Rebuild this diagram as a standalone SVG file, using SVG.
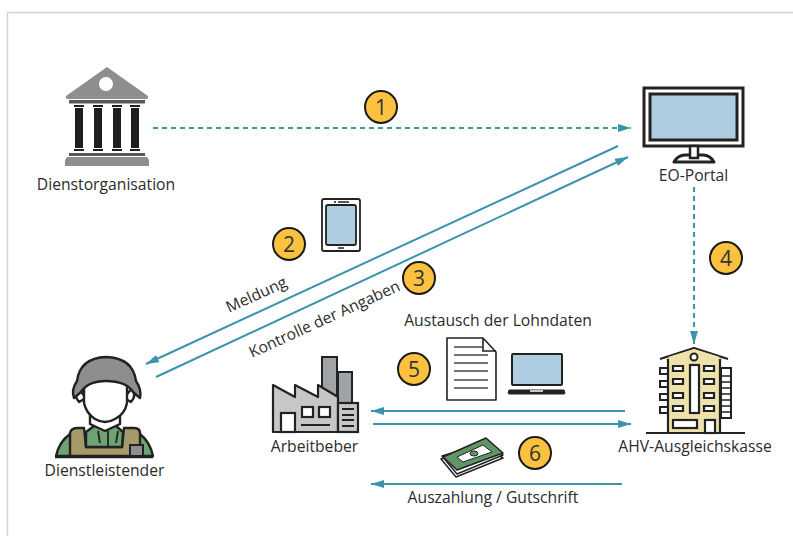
<svg xmlns="http://www.w3.org/2000/svg" width="793" height="536" viewBox="0 0 793 536">
<style>
text{font-family:"Open Sans","Noto Sans",sans-serif;font-size:15.700px;fill:#2b2b2b}
.c{text-anchor:middle}
.l{fill:none;stroke:#3a94ab;stroke-width:2}
.d{stroke-dasharray:5 4}
.b{fill:#fcc23f;stroke:#1a1a1a;stroke-width:2}
text.n{font-size:21px;text-anchor:middle;fill:#333}
.g{fill:#8c8e90}
.t{fill:#55585a}
.s{fill:#1e1e1e}
.o{stroke:#222;stroke-width:2.400;stroke-linejoin:round}
</style>
<defs>
<marker id="a" markerUnits="userSpaceOnUse" markerWidth="14" markerHeight="10" refX="13" refY="4" orient="auto"><path d="M0 0L13 4L0 8Z" fill="#3a94ab"/></marker>
</defs>
<path d="M7.500 536V12.500H793" fill="none" stroke="#d9d0c6" stroke-width="1.500"/>
<g id="connectors">
<path class="l d" d="M153 128H631" marker-end="url(#a)"/>
<path class="l" d="M618 146L146 364" marker-end="url(#a)"/>
<path class="l" d="M156 377L628 157" marker-end="url(#a)"/>
<path class="l d" d="M694 187V344" marker-end="url(#a)"/>
<path class="l" d="M625 411H371" marker-end="url(#a)"/>
<path class="l" d="M373 424H631" marker-end="url(#a)"/>
<path class="l" d="M622 484H371" marker-end="url(#a)"/>
</g>
<g id="dienstorganisation">
<path class="g" d="M107 67L148 96Q149 99 146 99H68Q65 99 66 96ZM67 157H147L149 160V166H65V160Z"/>
<circle cx="106" cy="84" r="7" fill="#fff"/>
<path class="t" d="M69 100H145V103.500H69ZM69 153H145V156H69Z"/>
<path class="s" d="M75 108H83V148H75ZM94 108H102V148H94ZM113 108H121V148H113ZM131 108H139V148H131ZM74 105H84V107H74ZM93 105H103V107H93ZM112 105H122V107H112ZM130 105H140V107H130ZM74 149H84V151H74ZM93 149H103V151H93ZM112 149H122V151H112ZM130 149H140V151H130Z"/>
<text class="c" x="106" y="190">Dienstorganisation</text>
</g>
<g id="eo-portal">
<rect x="644" y="88" width="99" height="58" fill="#fff" stroke="#222" stroke-width="3"/>
<rect x="650" y="94" width="87" height="46" fill="#afcde0" stroke="#222" stroke-width="3"/>
<path d="M674 162Q678 155 685 155H703Q710 155 714 162Z" fill="#fff" stroke="#222" stroke-width="3" stroke-linejoin="round"/>
<path d="M690 146V158H698V146Z" fill="#fff" stroke="#222" stroke-width="2.500"/>
<text class="c" x="693.500" y="181">EO-Portal</text>
</g>
<g id="dienstleistender">
<path class="o" d="M56 456Q59 442 70 434H140Q150 442 153 456Z" fill="#6ea374"/>
<path class="o" d="M70 456V433Q71 428 78 428H84L86 447H122L124 428H134Q140 428 140 433V456Z" fill="#a59a6b"/>
<path class="o" d="M86 432L94 426H116L123 432L122 447H86Z" fill="#6ea374"/>
<path d="M108 431V447M98 431L100 443M118 431L116 443" stroke="#222" stroke-width="1.800" fill="none"/>
<rect x="130" y="445" width="13" height="11" fill="#8c8e90" stroke="#222" stroke-width="2"/>
<path d="M55 457H153" stroke="#222" stroke-width="2.500"/>
<path class="o" d="M90 414H120V424L105 431L90 424Z" fill="#fff"/>
<path class="o" d="M78 388Q73 396 79 402L86 398ZM132 388Q137 396 131 402L124 398Z" fill="#fff"/>
<path class="o" d="M84 380H127V403Q125 414 115 419Q105 425 95 419Q86 413 84 403Z" fill="#fff"/>
<path class="o" d="M74 398Q71 390 77 381Q80 358 106 357Q133 358 136 381Q142 390 140 398L133 392Q126 381 106 381Q88 381 81 392Z" fill="#8c8e90"/>
<text class="c" x="104.500" y="476">Dienstleistender</text>
</g>
<g id="arbeitgeber">
<path d="M322 357H337V403H322Z" fill="#a0a4a6" stroke="#222" stroke-width="2"/>
<path d="M338 372H352V403H338Z" fill="#a0a4a6" stroke="#222" stroke-width="2"/>
<path d="M273 385L295 397V385L318 397V385L338 397V432H273Z" fill="#c6c7c6" stroke="#222" stroke-width="2.200" stroke-linejoin="round"/>
<rect x="338" y="403" width="20" height="29" fill="#c6c7c6" stroke="#222" stroke-width="2.200"/>
<path d="M342 409H354M342 415H354M342 420H354M342 426H354" stroke="#222" stroke-width="2"/>
<rect x="281" y="413" width="14" height="19" fill="#fff" stroke="#222" stroke-width="2.200"/>
<rect x="302" y="407" width="11" height="10" fill="#fff" stroke="#222" stroke-width="2.200"/>
<rect x="319" y="407" width="11" height="10" fill="#fff" stroke="#222" stroke-width="2.200"/>
<path d="M301 425H330" stroke="#222" stroke-width="2"/>
<text class="c" x="314.500" y="452">Arbeitbeber</text>
</g>
<g id="ahv-ausgleichskasse">
<path d="M721 368H731V418H721Z" fill="#fff" stroke="#222" stroke-width="2"/>
<path d="M722 376H731M722 382H731M722 388H731M722 394H731M722 400H731M722 406H731M722 412H731" stroke="#222" stroke-width="1.500"/>
<path d="M660 368H668V374H660ZM660 381H668V387H660ZM660 394H668V400H660ZM660 407H668V413H660Z" fill="#fff" stroke="#222" stroke-width="2"/>
<path d="M668 357H720V433H668Z" fill="#ede3aa" stroke="#222" stroke-width="2.200"/>
<path d="M660 359L694 348L728 359" fill="#ede3aa" stroke="#222" stroke-width="2.200" stroke-linejoin="round"/>
<path d="M668 357L694 349L720 357Z" fill="#ede3aa"/>
<circle cx="694" cy="357" r="3.500" fill="#fff" stroke="#222" stroke-width="2"/>
<rect x="690" y="365" width="9" height="48" fill="#fff" stroke="#222" stroke-width="2.200"/>
<path d="M673 366H683V371H673ZM704 366H714V371H704ZM673 379H683V384H673ZM704 379H714V384H704ZM673 393H683V398H673ZM704 393H714V398H704ZM673 406H683V411H673ZM704 406H714V411H704Z" fill="#fff" stroke="#222" stroke-width="2.200"/>
<rect x="673" y="420" width="24" height="8" fill="#fff" stroke="#222" stroke-width="2.200"/>
<rect x="705" y="420" width="10" height="13" fill="#fff" stroke="#222" stroke-width="2.200"/>
<path d="M646 433H745" stroke="#222" stroke-width="2.200"/>
<text class="c" x="695" y="452">AHV-Ausgleichskasse</text>
</g>
<g id="badge-1"><circle class="b" cx="381" cy="107" r="16"/><text class="n" x="381" y="114.500">1</text></g>
<g id="badge-2"><circle class="b" cx="289" cy="244" r="16"/><text class="n" x="289" y="251.500">2</text></g>
<g id="badge-3"><circle class="b" cx="419" cy="278" r="16"/><text class="n" x="419" y="285.500">3</text></g>
<g id="badge-4"><circle class="b" cx="726" cy="258" r="16"/><text class="n" x="726" y="265.500">4</text></g>
<g id="badge-5"><circle class="b" cx="414" cy="369" r="16"/><text class="n" x="414" y="376.500">5</text></g>
<g id="badge-6"><circle class="b" cx="535" cy="453" r="16"/><text class="n" x="535" y="460.500">6</text></g>
<g id="tablet">
<rect x="322" y="199" width="38" height="52" rx="2" fill="#fff" stroke="#222" stroke-width="1.800"/>
<rect x="326" y="205" width="30" height="40" rx="2" fill="#afcde0" stroke="#222" stroke-width="1.800"/>
<path d="M338 202H349M338 248H344M334 202H336" stroke="#222" stroke-width="1.500"/>
</g>
<g id="document">
<path d="M447 338H483L496 352V400H447Z" fill="#fff" stroke="#222" stroke-width="1.600" stroke-linejoin="round"/>
<path d="M483 338V351H496" fill="none" stroke="#222" stroke-width="1.600"/>
<path d="M454 347H482M454 355H488M454 363H488M454 371H488M454 380H488M454 388H488" stroke="#444" stroke-width="1.300"/>
</g>
<g id="laptop">
<rect x="512" y="354" width="50" height="31" rx="1" fill="#afcde0" stroke="#222" stroke-width="2"/>
<path d="M509 390H564L565 393Q565 394 563 394H510Q508 394 508 393Z" fill="#222" stroke="#222" stroke-width="1"/>
<path d="M530 391H543" stroke="#fff" stroke-width="1.500"/>
</g>
<g id="money">
<path d="M441 459L456 477L503 458L484 446Z" fill="#fff" stroke="#222" stroke-width="1.500" stroke-linejoin="round"/>
<path d="M442 456L457 474L503 455L485 443Z" fill="#fff" stroke="#222" stroke-width="1.500" stroke-linejoin="round"/>
<path d="M443 457L486 438L503 453L457 470Z" fill="#5f9567" stroke="#222" stroke-width="1.500" stroke-linejoin="round"/>
<path d="M457 457L483 445L492 452L463 462Z" fill="#fff" stroke="#222" stroke-width="1"/>
<ellipse cx="474" cy="453.500" rx="4" ry="2.500" fill="#5f9567" stroke="#222" stroke-width="1"/>
</g>
<g id="labels">
<text transform="translate(229 313) rotate(-24.500)" textLength="65" lengthAdjust="spacingAndGlyphs">Meldung</text>
<text transform="translate(252 358) rotate(-24.500)" textLength="164" lengthAdjust="spacingAndGlyphs">Kontrolle der Angaben</text>
<text class="c" x="498" y="326">Austausch der Lohndaten</text>
<text class="c" x="493" y="503">Auszahlung / Gutschrift</text>
</g>
</svg>
